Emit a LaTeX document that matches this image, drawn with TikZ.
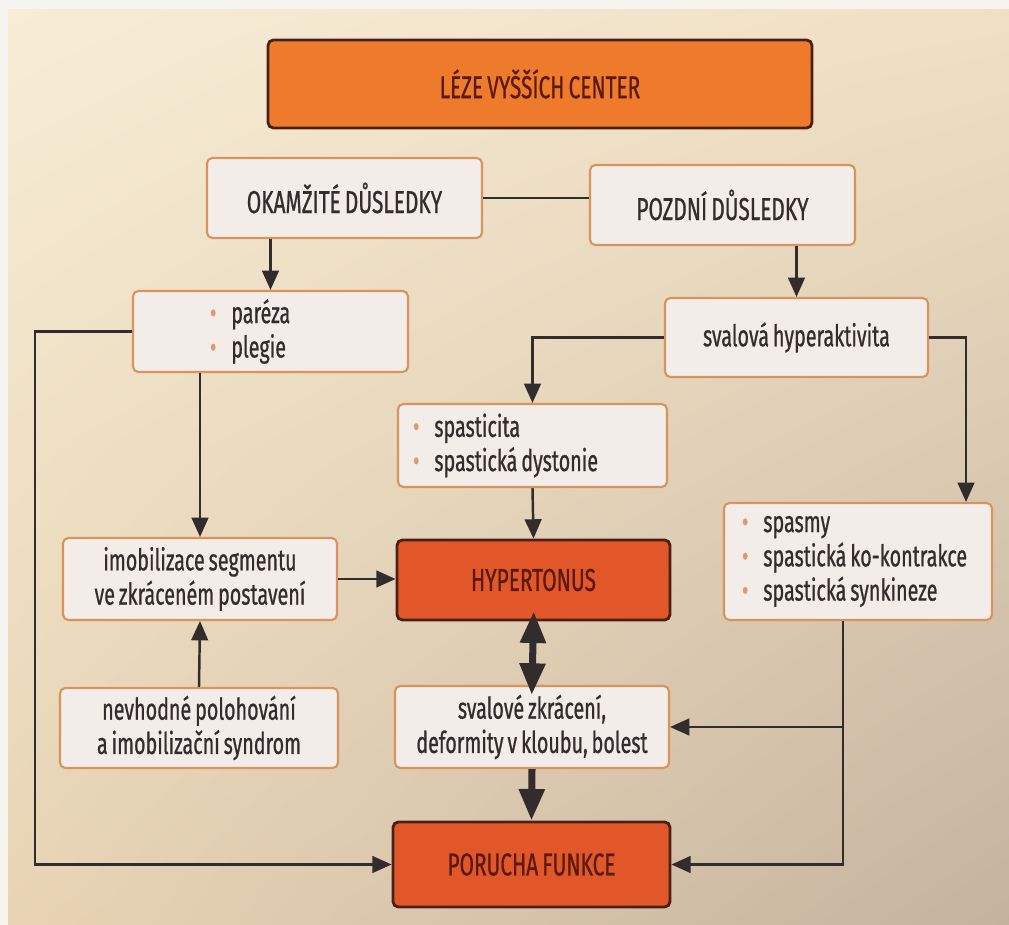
\documentclass[tikz,border=0pt]{standalone}
\usepackage{fontspec}
\setmainfont[FakeStretch=0.66, FakeBold=0.7, WordSpace=0.75]{Fira Sans}
\usetikzlibrary{arrows.meta, shadings}

\definecolor{bgul}{RGB}{247,237,214}
\definecolor{bgur}{RGB}{240,224,196}
\definecolor{bgll}{RGB}{232,212,180}
\definecolor{bglr}{RGB}{196,178,158}
\definecolor{edge}{RGB}{246,244,238}
\definecolor{boxfill}{HTML}{F2EDE8}
\definecolor{boxline}{HTML}{D8945C}
\definecolor{headfill}{HTML}{EE7B2C}
\definecolor{redfill}{HTML}{E2572A}
\definecolor{darkline}{HTML}{4A2016}
\definecolor{ink}{HTML}{332C2D}
\definecolor{headink}{HTML}{5A1A12}
\definecolor{bulc}{HTML}{E39670}

\newcommand{\bulit}{\textcolor{bulc}{\textbullet}\hspace{0.5em}}

\tikzset{
  lbox/.style={draw=boxline, line width=1.2pt, fill=boxfill, rounded corners=3pt,
    text=ink, font=\fontsize{17}{19.5}\selectfont, align=center,
    minimum width=5.5cm, minimum height=1.6cm, inner sep=0pt},
  hbox/.style={lbox, draw=darkline, fill=redfill, text=headink, line width=1.6pt,
    font=\fontsize{18}{20}\selectfont},
  capbox/.style={lbox, font=\fontsize{18}{20}\selectfont},
  lst/.style={lbox, align=flush left, text width=#1},
  big/.tip={Triangle[length=18pt,width=14pt]},
}

\begin{document}
\begin{tikzpicture}[x=0.02cm, y=-0.02cm, line width=1.4pt, draw=ink,
    >={Triangle[length=11pt,width=9.5pt]}]
  \shade[upper left=bgul, upper right=bgur, lower left=bgll, lower right=bglr]
    (0,0) rectangle (1009,925);
  \fill[edge] (0,0) rectangle (8,925);
  \fill[edge] (0,0) rectangle (1009,9);
  \useasboundingbox (0,0) rectangle (1009,925);

  % boxes
  \node[hbox, fill=headfill, minimum width=10.88cm, minimum height=1.76cm] (leze) at (540,84) {LÉZE VYŠŠÍCH CENTER};
  \node[capbox, minimum width=5.5cm] (okam) at (344.5,198) {OKAMŽITÉ DŮSLEDKY};
  \node[capbox, minimum width=5.3cm] (pozd) at (722.5,205) {POZDNÍ DŮSLEDKY};
  \node[lst=2.42cm, minimum width=5.5cm, minimum height=1.62cm] (parez) at (270.5,331.5) {\bulit paréza\\\bulit plegie};
  \node[lbox, minimum width=5.26cm, minimum height=1.58cm] (hyper) at (796.5,337.5) {svalová hyperaktivita};
  \node[lst=4.78cm, minimum width=5.38cm, minimum height=1.66cm] (spast) at (532.5,445.5) {\bulit spasticita\\\bulit spastická dystonie};
  \node[lbox, minimum width=5.48cm, minimum height=1.64cm] (imob) at (200,579) {imobilizace segmentu\\ve zkráceném postavení};
  \node[hbox, minimum width=5.46cm] (hton) at (533.5,580) {HYPERTONUS};
  \node[lst=4.64cm, minimum width=5.36cm, minimum height=2.34cm] (spasm) at (858,561.5) {\bulit spasmy\\\bulit spastická ko-kontrakce\\\bulit spastická synkineze};
  \node[lbox, minimum width=5.56cm] (nevh) at (199,728) {nevhodné polohování\\a imobilizační syndrom};
  \node[lbox, minimum width=5.48cm, minimum height=1.64cm] (zkrac) at (532,727) {svalové zkrácení,\\deformity v kloubu, bolest};
  \node[hbox, minimum width=5.54cm, minimum height=1.7cm] (poruch) at (531.5,864.5) {PORUCHA FUNKCE};

  \coordinate (lrail) at (35,0);
  \coordinate (rrail) at (843,0);

  % connectors
  \draw (okam.east) -- (okam.east -| pozd.west);
  \draw[->] (okam.south -| parez.north) -- (parez.north);
  \draw[->] (pozd.south -| hyper.north) -- (hyper.north);
  \draw[->] (hyper.west) -| (spast.north);
  \draw[->] (hyper.east) -| ([xshift=-0.54cm]spasm.north east);
  \draw[->] (parez.south -| imob.north) -- (imob.north);
  \draw[->] (parez.west) -| (lrail |- poruch.west) -- (poruch.west);
  \draw[->] (spast.south) -- (hton.north);
  \draw[->] (imob.east) -- (imob.east -| hton.west);
  \draw[->] (nevh.north) -- (imob.south);
  \draw[line width=4pt, big-big, shorten <=-0.2cm, shorten >=-0.2cm] (hton.south) -- (zkrac.north);
  \draw[line width=4pt, -big] (zkrac.south) -- (poruch.north);
  \draw[->] (rrail |- spasm.south) |- (poruch.east);
  \draw[->] (rrail |- zkrac.east) -- (zkrac.east);
\end{tikzpicture}
\end{document}
